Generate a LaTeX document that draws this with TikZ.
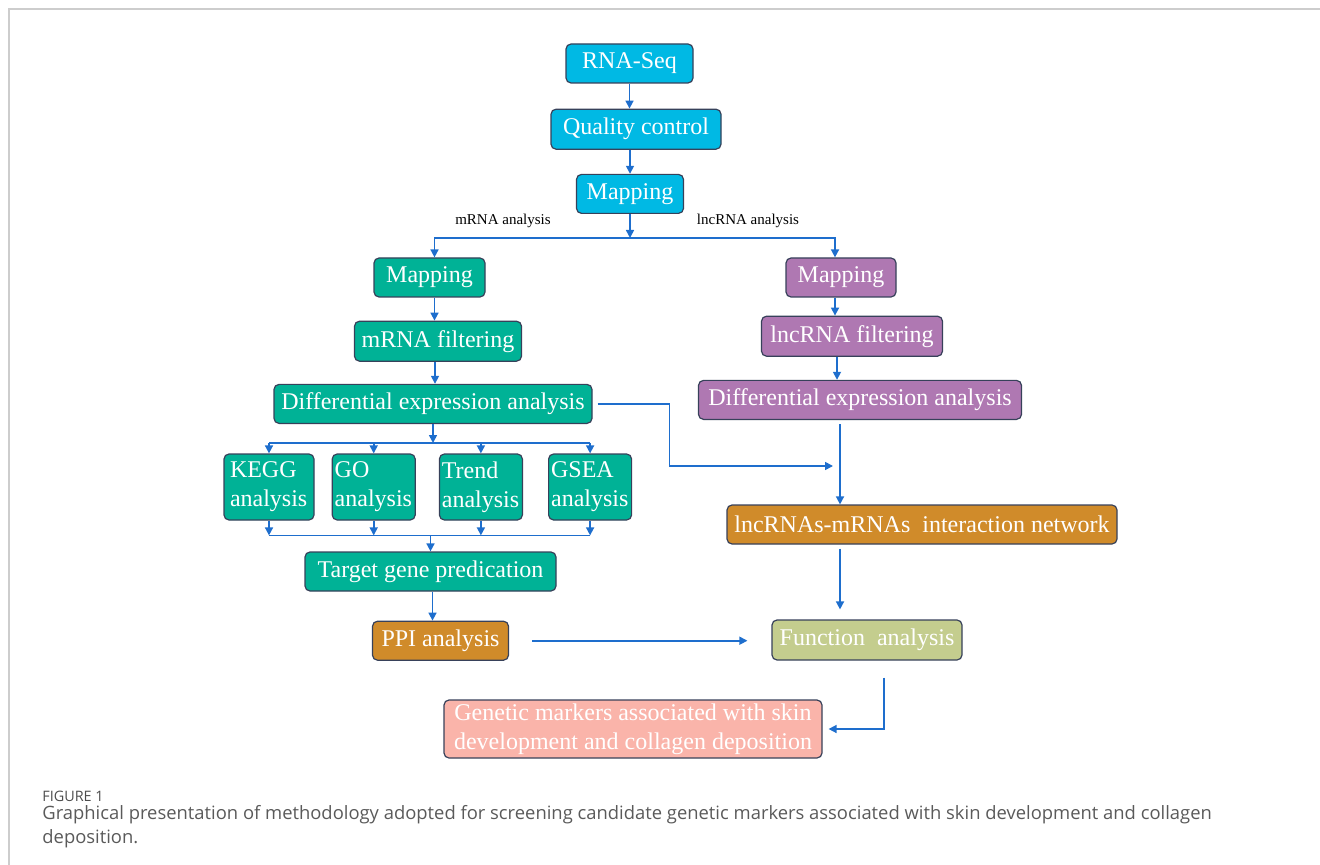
\documentclass[tikz,border=0pt]{standalone}
\usepackage{fontspec}
\setmainfont{Liberation Serif}
\newfontfamily\capfont{Open Sans}
\usepackage{tikz}
\usetikzlibrary{positioning, arrows.meta}

\definecolor{seqcyan}{RGB}{0,185,228}
\definecolor{mteal}{RGB}{0,178,150}
\definecolor{lncpurple}{RGB}{175,120,178}
\definecolor{netorange}{RGB}{208,139,42}
\definecolor{funcolive}{RGB}{196,205,142}
\definecolor{markersalmon}{RGB}{250,180,170}
\definecolor{boxline}{RGB}{55,65,90}
\definecolor{arrowblue}{RGB}{30,110,205}
\definecolor{framegray}{RGB}{205,205,205}
\definecolor{capgray}{RGB}{90,90,90}

\begin{document}
\begin{tikzpicture}[
    x=0.5pt, y=-0.5pt,
    node distance=12pt,
    box/.style={rectangle, rounded corners=2.5pt, draw=boxline, line width=0.6pt, inner sep=0pt, text=white, font=\fontsize{12}{14.5}\selectfont, align=center, minimum height=19.5pt},
    sbox/.style={box, fill=mteal, align=left, text width=39pt, minimum height=33pt, inner ysep=2pt},
    lbl/.style={font=\fontsize{7.5}{9}\selectfont},
    line/.style={draw=arrowblue, line width=0.8pt, -{Triangle[width=4pt,length=4pt]}},
    seg/.style={draw=arrowblue, line width=0.8pt}
    ]

    \useasboundingbox (0,0) rectangle (1320,865);
    \draw[framegray, line width=1pt] (9,865) -- (9,9) -- (1320,9);

    % Common steps
    \node (rnaseq) [box, fill=seqcyan, minimum width=63.5pt] at (629.5,63.5) {RNA-Seq};
    \node (qc) [box, fill=seqcyan, minimum width=85pt, minimum height=20pt, below=12.5pt of rnaseq, xshift=3.25pt] {Quality control};
    \node (maptop) [box, fill=seqcyan, minimum width=53.5pt, below=12pt of qc, xshift=-3pt] {Mapping};

    % mRNA branch
    \node (mapl) [box, fill=mteal, minimum width=55.5pt] at (429.5,277.5) {Mapping};
    \node (mrnaf) [box, fill=mteal, minimum width=83.5pt, minimum height=20pt, below=11.5pt of mapl, xshift=4.25pt] {mRNA filtering};
    \node (diffl) [box, fill=mteal, minimum width=159pt, below=11pt of mrnaf, xshift=-2.5pt] {Differential expression analysis};
    \node (kegg) [sbox, inner xsep=3pt] at (269,487) {KEGG\\analysis};
    \node (go) [sbox, inner xsep=1.25pt, right=8.5pt of kegg] {GO\\analysis};
    \node (trend) [sbox, inner xsep=1.25pt, right=11.5pt of go] {Trend\\analysis};
    \node (gsea) [sbox, inner xsep=1.25pt, right=12.5pt of trend] {GSEA\\analysis};
    \node (target) [box, fill=mteal, minimum width=125.5pt] at (430.5,571.5) {Target gene predication};
    \node (ppi) [box, fill=netorange, minimum width=68pt, below=14.5pt of target, xshift=5pt] {PPI analysis};

    % lncRNA branch
    \node (mapr) [box, fill=lncpurple, minimum width=55pt] at (841,277.5) {Mapping};
    \node (lncf) [box, fill=lncpurple, minimum width=90.5pt, minimum height=20pt, below=9pt of mapr, xshift=5.5pt] {lncRNA filtering};
    \node (diffr) [box, fill=lncpurple, minimum width=161.5pt, below=11.5pt of lncf, xshift=4pt] {Differential expression analysis};
    \node (lncnet) [box, fill=netorange, minimum width=195pt] at (922,524.5) {lncRNAs-mRNAs\ \ interaction network};
    \node (func) [box, fill=funcolive, minimum width=95pt, minimum height=20pt] at (867,640) {Function\ \ analysis};
    \node (markers) [box, fill=markersalmon, minimum width=189pt, minimum height=29pt] at (633,729) {Genetic markers associated with skin\\development and collagen deposition};

    % Labels
    \node (mlab) [lbl] at (503,221) {mRNA analysis};
    \node (llab) [lbl] at (748,221) {lncRNA analysis};

    % Split points
    \coordinate (split) at ([yshift=-12pt]maptop.south);
    \coordinate (fork) at ([yshift=-9.5pt]diffl.south);
    \coordinate (join) at ([yshift=8pt]target.north);
    \coordinate (drop) at ([xshift=-10pt]diffr.south);
    \coordinate (meet) at ([xshift=-3.5pt, yshift=-23pt]drop);

    % Arrows
    \draw [line] (rnaseq) -- (rnaseq.south |- qc.north);
    \draw [line] (maptop.north |- qc.south) -- (maptop);
    \draw [line] (maptop) -- (split);
    \draw [line] (split) -| ([xshift=2.5pt]mapl.north);
    \draw [line] (split) -| ([xshift=-3pt]mapr.north);
    \draw [line] ([xshift=2.5pt]mapl.south) -- ([xshift=2.5pt]mapl.south |- mrnaf.north);
    \draw [line] ([xshift=-1.5pt]mrnaf.south) -- ([xshift=-1.5pt]mrnaf.south |- diffl.north);
    \draw [line] (diffl) -- (fork);
    \draw [seg] (fork -| kegg) -- (fork -| gsea);
    \foreach \n in {kegg, go, trend, gsea}
        \draw [line] (fork -| \n) -- (\n);
    \foreach \n in {kegg, go, trend, gsea}
        \draw [line] (\n) -- (\n |- join);
    \draw [seg] (join -| kegg) -- (join -| gsea);
    \draw [line] (join) -- (target);
    \draw [line] ([xshift=1pt]target.south) -- ([xshift=1pt]target.south |- ppi.north);
    \draw [line, shorten <=11.5pt, shorten >=12pt] (ppi.east) -- (ppi.east -| func.west);

    \draw [line] ([xshift=-3pt]mapr.south) -- ([xshift=-3pt]mapr.south |- lncf.north);
    \draw [line] ([xshift=-7.5pt]lncf.south) -- ([xshift=-7.5pt]lncf.south |- diffr.north);
    \draw [line, shorten <=2pt] (drop) -- (drop |- lncnet.north);
    \draw [line, shorten <=2.5pt] (diffl.east) -- ++(38.5pt,0) |- (meet);
    \draw [line, shorten <=2pt, shorten >=5pt] (drop |- lncnet.south) -- (drop |- func.north);
    \draw [line, shorten >=3pt] ([xshift=8.5pt, yshift=-8.5pt]func.south) |- (markers.east);

    % Caption
    \node (figno) [anchor=north west, inner sep=0pt, text=capgray!85!black, font=\capfont\fontsize{7.2}{8}\selectfont] at (42,791) {FIGURE 1};
    \node (caption) [anchor=north west, inner sep=0pt, align=left, text=capgray, font=\capfont\fontsize{9.2}{12}\selectfont] at (42,805) {Graphical presentation of methodology adopted for screening candidate genetic markers associated with skin development and collagen\\deposition.};
\end{tikzpicture}
\end{document}
